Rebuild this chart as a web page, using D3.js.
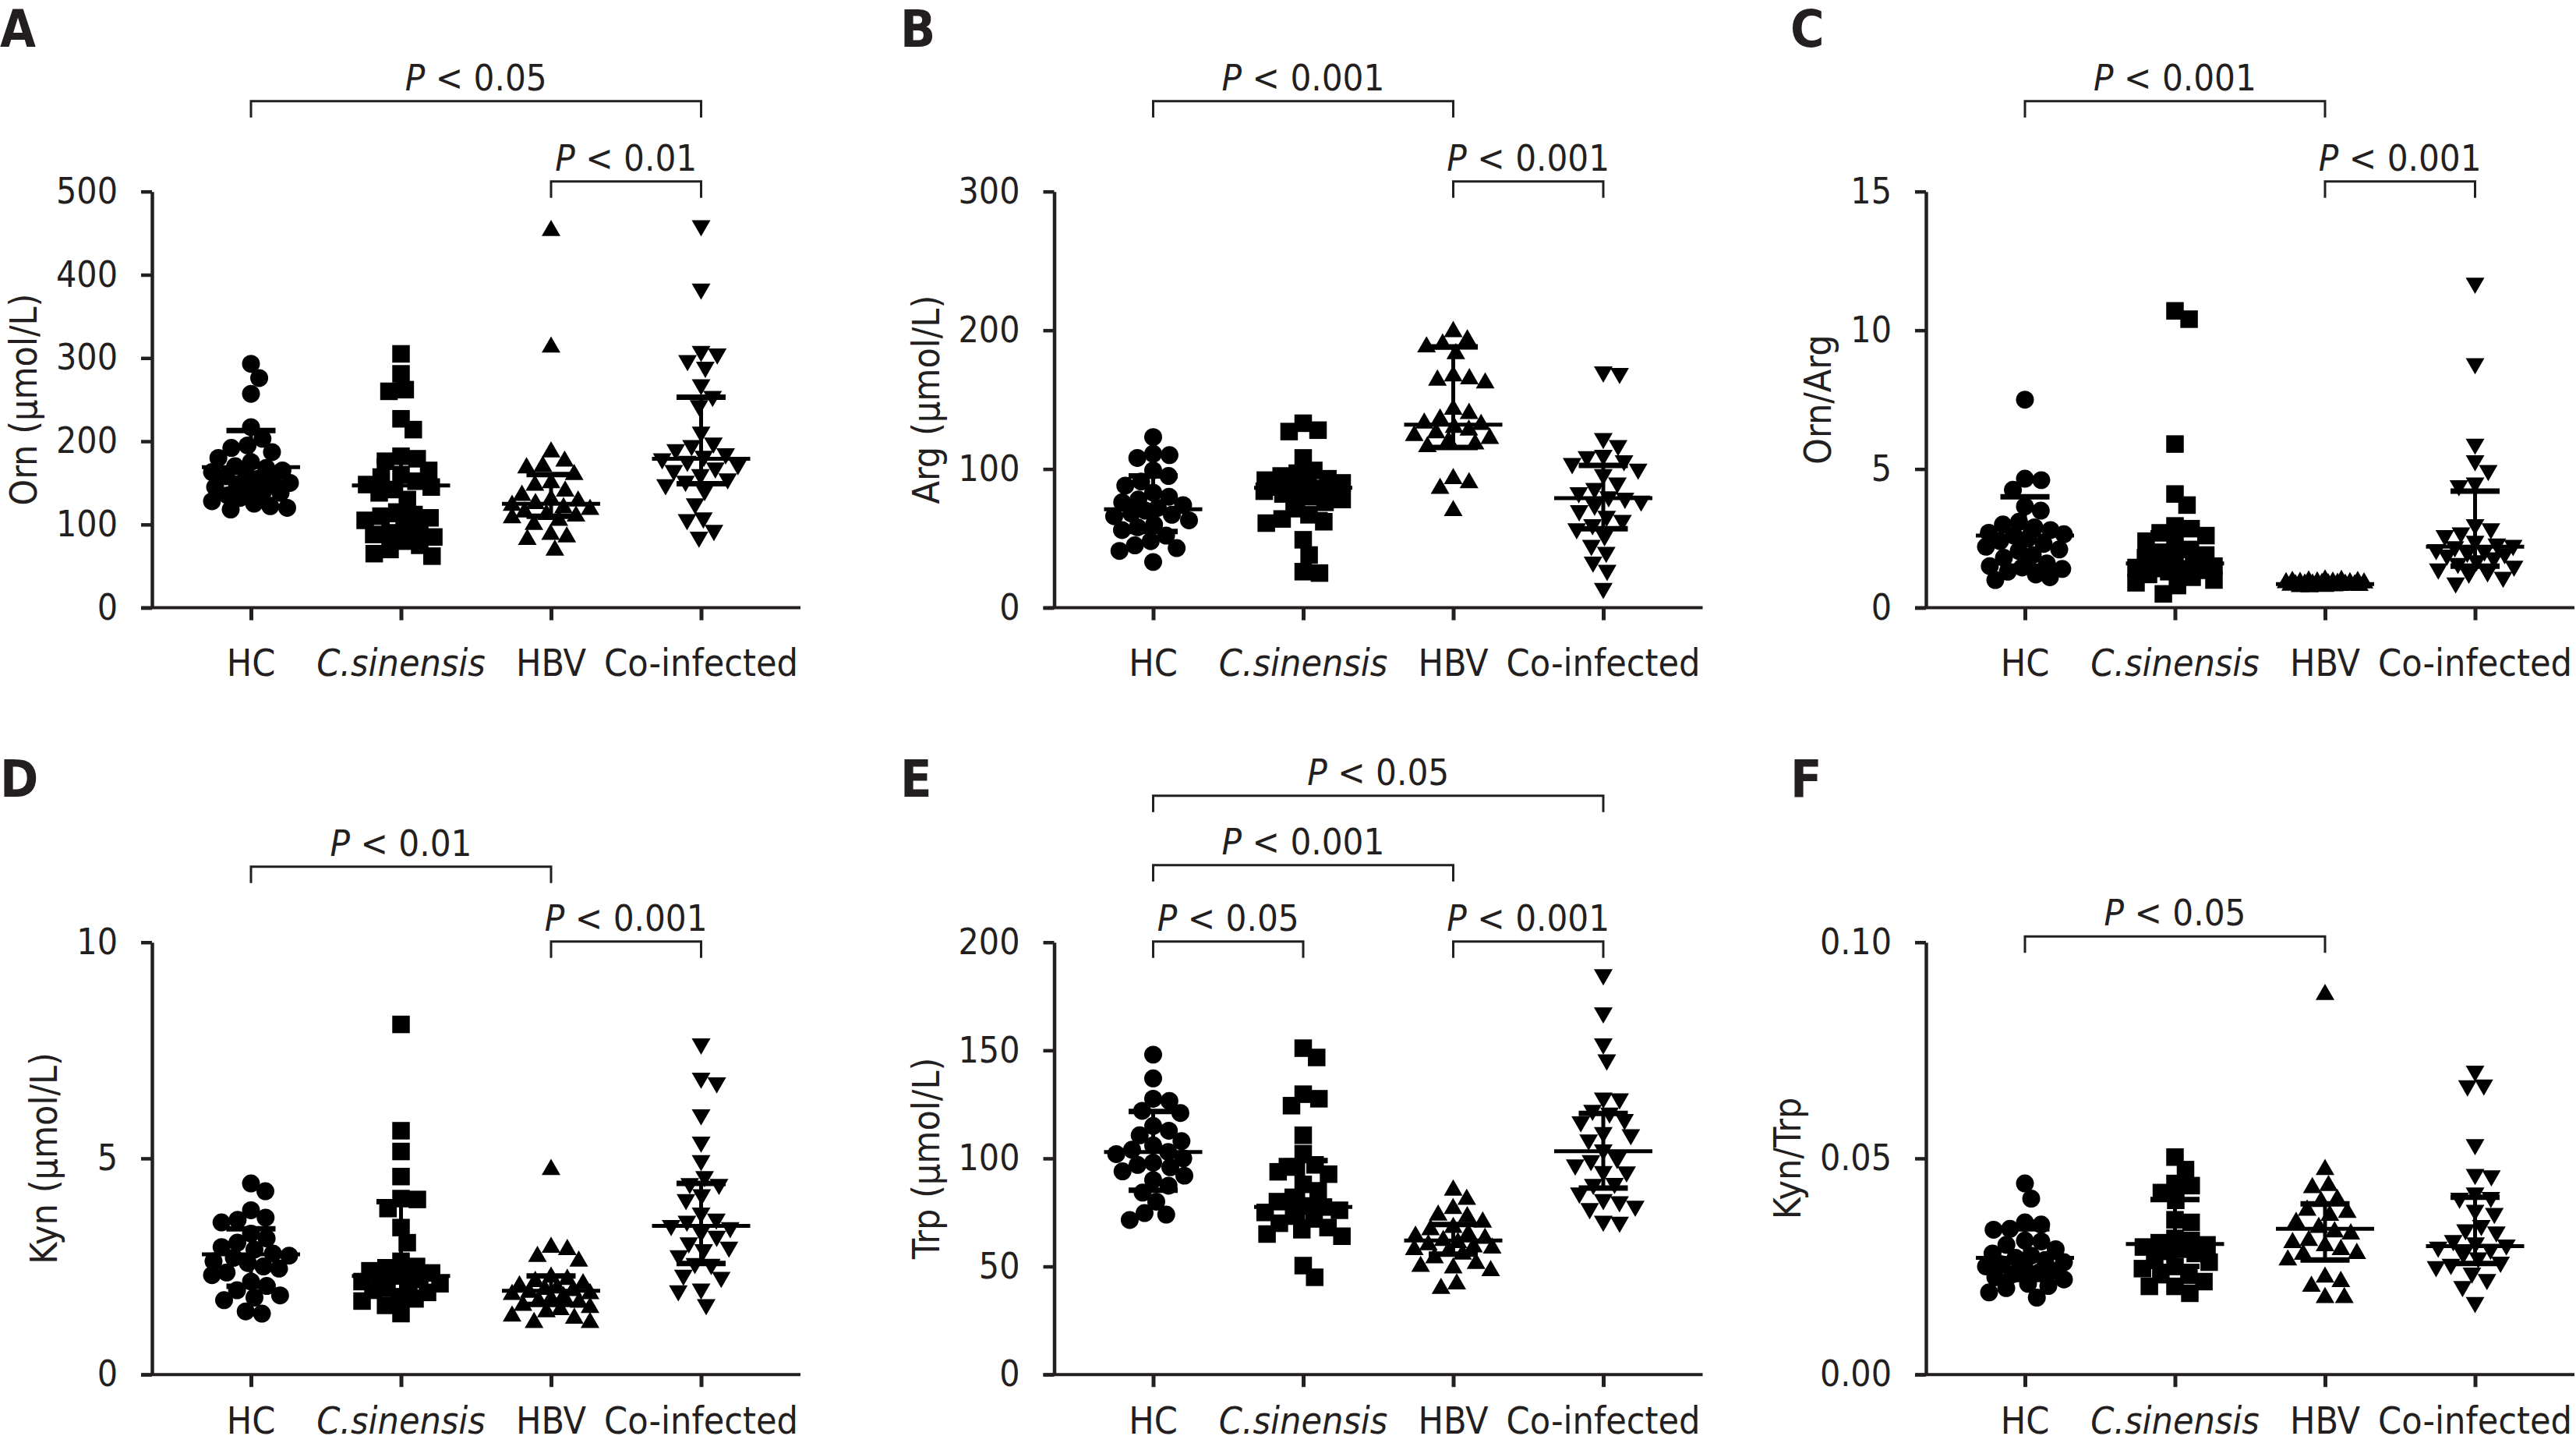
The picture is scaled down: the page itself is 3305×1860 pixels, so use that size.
<!DOCTYPE html>
<html>
<head>
<meta charset="utf-8">
<script src="https://cdn.jsdelivr.net/npm/d3@7"></script>
<style>
  body { margin: 0; background: #fff; }
  svg { display: block; }
  text { font-family: "DejaVu Sans Condensed", "DejaVu Sans", sans-serif; font-stretch: condensed; fill: #231f20; }
</style>
</head>
<body>
<div id="chart"></div>
<script>
const groups = ["HC", "C.sinensis", "HBV", "Co-infected"];

// A: ornithine
const ornTicks = [0, 100, 200, 300, 400, 500];
const ornHC = [293, 276, 257, 217, 203, 195, 192, 187, 180, 175, 170, 168, 165, 163, 160, 158, 155, 152, 150, 148, 145, 143, 140, 138, 135, 132, 128, 125, 122, 120, 118];
const ornCs = [305, 281, 262, 260, 227, 214, 182, 179, 176, 165, 160, 157, 152, 148, 145, 142, 138, 130, 115, 112, 110, 108, 105, 100, 95, 90, 88, 85, 80, 75, 70, 65, 62];
const ornHBV = [453, 313, 187, 176, 170, 168, 160, 150, 147, 140, 135, 130, 128, 125, 123, 120, 118, 115, 112, 110, 108, 105, 100, 88, 85, 82, 69];
const ornCo = [459, 383, 308, 305, 297, 289, 268, 254, 243, 211, 198, 195, 190, 185, 182, 179, 176, 172, 168, 165, 160, 155, 152, 148, 141, 125, 108, 106, 93, 85];
const ornStats = [[169, 130, 213], [147, 106, 176], [125, 110, 160], [179, 149, 253]]; // centre, low, high
const ornBrackets = [["HC", "Co-infected", "< 0.05"], ["HBV", "Co-infected", "< 0.01"]];

// B: arginine
const argTicks = [0, 100, 200, 300];
const argHC = [123, 111, 110, 108, 99, 95, 91, 88, 83, 80, 78, 76, 74, 72, 70, 68, 67, 66, 63, 60, 58, 56, 52, 48, 45, 43, 41, 33];
const argCs = [133, 128, 127, 108, 99, 97, 95, 93, 92, 90, 89, 88, 87, 86, 85, 84, 83, 82, 80, 78, 76, 72, 67, 64, 62, 61, 49, 38, 26, 25];
const argHBV = [199, 193, 190, 188, 183, 167, 165, 164, 162, 143, 140, 136, 133, 132, 130, 128, 126, 124, 122, 120, 118, 116, 93, 90, 86, 70];
const argCo = [170, 169, 122, 117, 110, 109, 106, 104, 100, 96, 90, 86, 83, 80, 79, 77, 74, 70, 66, 63, 60, 57, 52, 45, 40, 33, 27, 14];
const argStats = [[71, 55, 95], [86.5, 67, 95], [132, 115.5, 188], [79, 57, 102.6]];
const argBrackets = [["HC", "HBV", "< 0.001"], ["HBV", "Co-infected", "< 0.001"]];

// C: Orn/Arg
const oaTicks = [0, 5, 10, 15];
const oaHC = [7.5, 4.65, 4.6, 4.25, 3.65, 3.5, 3.1, 3.0, 2.9, 2.8, 2.7, 2.65, 2.6, 2.5, 2.4, 2.3, 2.2, 2.1, 2.05, 1.9, 1.8, 1.6, 1.5, 1.45, 1.4, 1.3, 1.2, 1.1, 1.0];
const oaCs = [10.7, 10.4, 5.9, 4.1, 3.7, 2.95, 2.85, 2.7, 2.6, 2.4, 2.3, 2.1, 2.0, 1.9, 1.8, 1.7, 1.6, 1.55, 1.5, 1.45, 1.4, 1.35, 1.3, 1.2, 1.1, 1.0, 0.9, 0.8, 0.5];
const oaHBV = [1.0, 0.98, 0.96, 0.95, 0.94, 0.93, 0.92, 0.91, 0.9, 0.9, 0.89, 0.88, 0.87, 0.86, 0.85, 0.85, 0.84, 0.83, 0.82, 0.81, 0.8, 0.8, 0.79, 0.78, 0.77, 0.76, 0.75];
const oaCo = [11.7, 8.8, 5.9, 5.3, 4.95, 4.5, 4.4, 3.0, 2.85, 2.7, 2.6, 2.4, 2.3, 2.25, 2.2, 2.1, 2.05, 2.0, 1.95, 1.9, 1.8, 1.7, 1.6, 1.5, 1.4, 1.3, 1.25, 1.1, 0.9];
const oaStats = [[2.6, 1.5, 4.0], [1.6, 1.2, 2.7], [0.85, 0.8, 0.9], [2.2, 1.5, 4.2]];
const oaBrackets = [["HC", "HBV", "< 0.001"], ["HBV", "Co-infected", "< 0.001"]];

// D: kynurenine
const kynTicks = [0, 5, 10];
const kynHC = [4.42, 4.24, 3.8, 3.63, 3.58, 3.52, 3.26, 3.15, 3.05, 2.95, 2.89, 2.8, 2.75, 2.7, 2.62, 2.58, 2.5, 2.45, 2.36, 2.3, 2.15, 2.05, 1.95, 1.83, 1.78, 1.72, 1.46, 1.41];
const kynCs = [8.1, 5.64, 5.16, 4.58, 4.07, 4.05, 3.84, 3.4, 3.05, 2.62, 2.5, 2.47, 2.4, 2.35, 2.3, 2.28, 2.25, 2.2, 2.15, 2.1, 2.05, 2.0, 1.95, 1.9, 1.8, 1.75, 1.7, 1.6, 1.41];
const kynHBV = [4.74, 2.94, 2.89, 2.73, 2.62, 2.25, 2.2, 2.15, 2.1, 2.05, 2.0, 1.97, 1.94, 1.9, 1.87, 1.85, 1.8, 1.75, 1.7, 1.67, 1.6, 1.55, 1.5, 1.45, 1.35, 1.3, 1.2, 1.2];
const kynCo = [7.65, 6.86, 6.75, 6.01, 5.38, 4.95, 4.58, 4.42, 4.4, 4.16, 4.05, 3.74, 3.6, 3.55, 3.45, 3.4, 3.3, 3.2, 3.05, 2.95, 2.89, 2.75, 2.57, 2.55, 2.3, 2.25, 1.98, 1.94, 1.62];
const kynStats = [[2.78, 2.04, 3.37], [2.28, 1.9, 4.0], [1.94, 1.62, 2.28], [3.44, 2.57, 4.42]];
const kynBrackets = [["HC", "HBV", "< 0.01"], ["HBV", "Co-infected", "< 0.001"]];

// E: tryptophan
const trpTicks = [0, 50, 100, 150, 200];
const trpHC = [148, 137, 127.6, 126.6, 122, 121, 115, 112.8, 110.7, 108, 106, 104, 103, 102, 100, 98, 97, 95.9, 94, 92, 90, 87.4, 84.2, 80, 74.7, 74, 71.5];
const trpCs = [151, 146.7, 129.7, 127.6, 124.4, 110.7, 102.2, 97, 96, 93.8, 92.7, 88, 85, 82, 80, 78, 77.5, 76, 75, 73.7, 72, 70, 68, 67, 65, 64, 50.4, 45];
const trpHBV = [85.3, 81, 76.8, 73.7, 73, 70.5, 68, 67, 65, 64, 63, 62, 61, 60, 59, 58.5, 57.8, 57, 55.7, 54, 51.4, 50, 49.3, 48, 41.9, 39.8];
const trpCo = [185, 167.4, 153, 145.6, 128, 127.6, 122.3, 121, 118, 117, 112, 111, 108.6, 104, 100, 99, 97, 94, 93.8, 88.5, 88, 84, 81, 80, 77.9, 76.8, 71, 70.5];
const trpStats = [[103, 85.3, 121.7], [77.5, 70.5, 99], [62, 55.7, 69.4], [103.3, 86.3, 120.8]];
const trpBrackets = [["HC", "Co-infected", "< 0.05"], ["HC", "HBV", "< 0.001"], ["HC", "C.sinensis", "< 0.05"], ["HBV", "Co-infected", "< 0.001"]];

// F: Kyn/Trp
const ktTicks = [0, 0.05, 0.10];
const ktHC = [0.0442, 0.0407, 0.0352, 0.0347, 0.0337, 0.0335, 0.031, 0.0308, 0.03, 0.029, 0.028, 0.0275, 0.027, 0.0265, 0.026, 0.0255, 0.025, 0.0245, 0.024, 0.0236, 0.0232, 0.0225, 0.022, 0.021, 0.0205, 0.02, 0.019, 0.0178];
const ktCs = [0.0503, 0.0474, 0.0442, 0.0437, 0.0421, 0.0403, 0.0358, 0.0352, 0.0315, 0.031, 0.0305, 0.03, 0.0295, 0.029, 0.0285, 0.028, 0.027, 0.026, 0.025, 0.0245, 0.0231, 0.023, 0.0215, 0.0204, 0.0204, 0.0188];
const ktHBV = [0.0879, 0.0474, 0.0437, 0.0432, 0.0405, 0.04, 0.038, 0.0375, 0.0368, 0.0352, 0.034, 0.033, 0.0325, 0.031, 0.0305, 0.0298, 0.0289, 0.028, 0.0278, 0.0265, 0.0225, 0.0215, 0.0204, 0.0178, 0.0178];
const ktCo = [0.0702, 0.067, 0.0668, 0.0532, 0.0463, 0.046, 0.042, 0.041, 0.0408, 0.038, 0.0373, 0.0345, 0.0335, 0.033, 0.031, 0.0305, 0.03, 0.0295, 0.029, 0.028, 0.027, 0.026, 0.0255, 0.025, 0.0235, 0.022, 0.0204, 0.0167];
const ktStats = [[0.027, 0.022, 0.0337], [0.0302, 0.025, 0.0405], [0.0337, 0.0265, 0.0395], [0.0297, 0.0257, 0.041]];
const ktBrackets = [["HC", "HBV", "< 0.05"]];

// ---- layout ----
const width = 3305;
const height = 1860;
const ink = "#231f20";

const rows = [
  { top: 245.7, bottom: 779.6, letterY: 60, labelDy: 87 },
  { top: 1208.7, bottom: 1763.2, letterY: 1022, labelDy: 76 },
];
const cols = [
  { axis: 195, letter: 0 },
  { axis: 1352.5, letter: 1155 },
  { axis: 2471, letter: 2297 },
];

const panels = [
  { id: "A", col: 0, row: 0, title: "Orn (μmol/L)", ticks: ornTicks, fmt: d3.format("d"),
    values: [ornHC, ornCs, ornHBV, ornCo], stats: ornStats, brackets: ornBrackets, brY: [-116, -13] },
  { id: "B", col: 1, row: 0, title: "Arg (μmol/L)", ticks: argTicks, fmt: d3.format("d"),
    values: [argHC, argCs, argHBV, argCo], stats: argStats, brackets: argBrackets, brY: [-116, -13] },
  { id: "C", col: 2, row: 0, title: "Orn/Arg", ticks: oaTicks, fmt: d3.format("d"),
    values: [oaHC, oaCs, oaHBV, oaCo], stats: oaStats, brackets: oaBrackets, brY: [-116, -13] },
  { id: "D", col: 0, row: 1, title: "Kyn (μmol/L)", ticks: kynTicks, fmt: d3.format("d"),
    values: [kynHC, kynCs, kynHBV, kynCo], stats: kynStats, brackets: kynBrackets, brY: [-97, -1] },
  { id: "E", col: 1, row: 1, title: "Trp (μmol/L)", ticks: trpTicks, fmt: d3.format("d"),
    values: [trpHC, trpCs, trpHBV, trpCo], stats: trpStats, brackets: trpBrackets, brY: [-188, -99, -1, -1] },
  { id: "F", col: 2, row: 1, title: "Kyn/Trp", ticks: ktTicks, fmt: d3.format(".2f"),
    values: [ktHC, ktCs, ktHBV, ktCo], stats: ktStats, brackets: ktBrackets, brY: [-7.5] },
];

const symbols = [
  { type: d3.symbolCircle, size: 415, rotate: 0 },
  { type: d3.symbolSquare, size: 506, rotate: 0 },
  { type: d3.symbolTriangle, size: 250, rotate: 0 },
  { type: d3.symbolTriangle, size: 250, rotate: 180 },
];

// beeswarm: nearest free spot to the centre, limited width; overlap when full
function swarm(vals, y, d, maxW) {
  const pts = vals.map((v) => ({ v, y: y(v), x: 0 }));
  const placed = [];
  pts.slice().sort((a, b) => a.y - b.y).forEach((p) => {
    const near = placed.filter((q) => Math.abs(q.y - p.y) < d);
    const cands = [0];
    near.forEach((q) => {
      const dx = Math.sqrt(d * d - (q.y - p.y) ** 2);
      cands.push(q.x + dx, q.x - dx);
    });
    const ok = cands
      .filter((c) => Math.abs(c) <= maxW + 0.01)
      .filter((c) => near.every((q) => (q.x - c) ** 2 + (q.y - p.y) ** 2 >= d * d - 0.01))
      .sort((a, b) => Math.abs(a) - Math.abs(b));
    if (ok.length) {
      p.x = ok[0];
    } else {
      let best = 0;
      let bestDist = -1;
      for (let c = -maxW; c <= maxW; c += 2) {
        const m = d3.min(near, (q) => (q.x - c) ** 2 + (q.y - p.y) ** 2);
        if (m > bestDist + 1e-6 || (Math.abs(m - bestDist) < 1e-6 && Math.abs(c) < Math.abs(best))) {
          bestDist = m;
          best = c;
        }
      }
      p.x = best;
    }
    placed.push(p);
  });
  return pts;
}

const svg = d3.select("#chart").append("svg")
  .attr("width", width)
  .attr("height", height);

panels.forEach((p) => {
  const row = rows[p.row];
  const col = cols[p.col];
  const g = svg.append("g");

  const y = d3.scaleLinear().domain([0, d3.max(p.ticks)]).range([row.bottom, row.top]);
  const x = d3.scalePoint().domain(groups)
    .range([col.axis + 127, col.axis + 127 + 3 * 192.5]);

  // panel letter
  g.append("text")
    .attr("x", col.letter)
    .attr("y", row.letterY)
    .style("font-size", "66px")
    .style("font-weight", "bold")
    .text(p.id);

  // y axis
  const yAxis = g.append("g")
    .attr("transform", `translate(${col.axis},0)`)
    .call(d3.axisLeft(y).tickValues(p.ticks).tickFormat(p.fmt)
      .tickSize(14).tickSizeOuter(0).tickPadding(30));
  yAxis.selectAll("path, line").attr("stroke", ink).attr("stroke-width", 4.5);
  yAxis.selectAll("text").style("font-size", "46px").attr("fill", ink);
  const yBox = yAxis.node().getBBox();

  g.append("text")
    .attr("transform", `translate(${col.axis + yBox.x - 42},${(row.top + row.bottom) / 2}) rotate(-90)`)
    .attr("text-anchor", "middle")
    .attr("dominant-baseline", "central")
    .style("font-size", "48px")
    .text(p.title);

  // x axis
  g.append("line")
    .attr("x1", col.axis - 14).attr("x2", col.axis + 832)
    .attr("y1", row.bottom).attr("y2", row.bottom)
    .attr("stroke", ink).attr("stroke-width", 4);
  const xAxis = g.append("g")
    .attr("transform", `translate(0,${row.bottom})`)
    .call(d3.axisBottom(x).tickSize(16).tickSizeOuter(0).tickFormat(""));
  xAxis.select(".domain").remove();
  xAxis.selectAll("line").attr("stroke", ink).attr("stroke-width", 5);

  g.selectAll(".xlabel")
    .data(groups)
    .join("text")
    .attr("x", (d) => x(d))
    .attr("y", row.bottom + row.labelDy)
    .attr("text-anchor", "middle")
    .style("font-size", "48px")
    .style("font-style", (d) => (d === "C.sinensis" ? "italic" : "normal"))
    .text((d) => d);

  // points
  groups.forEach((grp, i) => {
    const sym = symbols[i];
    const path = d3.symbol().type(sym.type).size(sym.size);
    const pts = swarm(p.values[i], y, 21, 50);
    g.append("g")
      .selectAll("path")
      .data(pts)
      .join("path")
      .attr("d", path)
      .attr("transform", (d) => `translate(${x(grp) + d.x},${d.y}) rotate(${sym.rotate})`)
      .attr("fill", "#000");

    // centre line with error bar
    const [mid, lo, hi] = p.stats[i];
    const eb = g.append("g").attr("stroke", "#000");
    eb.append("line").attr("x1", x(grp) - 63).attr("x2", x(grp) + 63)
      .attr("y1", y(mid)).attr("y2", y(mid)).attr("stroke-width", 5);
    eb.append("line").attr("x1", x(grp)).attr("x2", x(grp))
      .attr("y1", y(lo)).attr("y2", y(hi)).attr("stroke-width", 5);
    [lo, hi].forEach((v) => {
      eb.append("line").attr("x1", x(grp) - 31.5).attr("x2", x(grp) + 31.5)
        .attr("y1", y(v)).attr("y2", y(v)).attr("stroke-width", 7);
    });
  });

  // significance brackets
  p.brackets.forEach(([g1, g2, label], k) => {
    const by = row.top + p.brY[k];
    const x1 = x(g1);
    const x2 = x(g2);
    g.append("path")
      .attr("d", `M${x1},${by + 21}V${by}H${x2}V${by + 21}`)
      .attr("fill", "none")
      .attr("stroke", ink)
      .attr("stroke-width", 3);
    const t = g.append("text")
      .attr("x", (x1 + x2) / 2)
      .attr("y", by - 14)
      .attr("text-anchor", "middle")
      .style("font-size", "47px");
    t.append("tspan").style("font-style", "italic").text("P");
    t.append("tspan").text(" " + label);
  });
});
</script>
</body>
</html>
